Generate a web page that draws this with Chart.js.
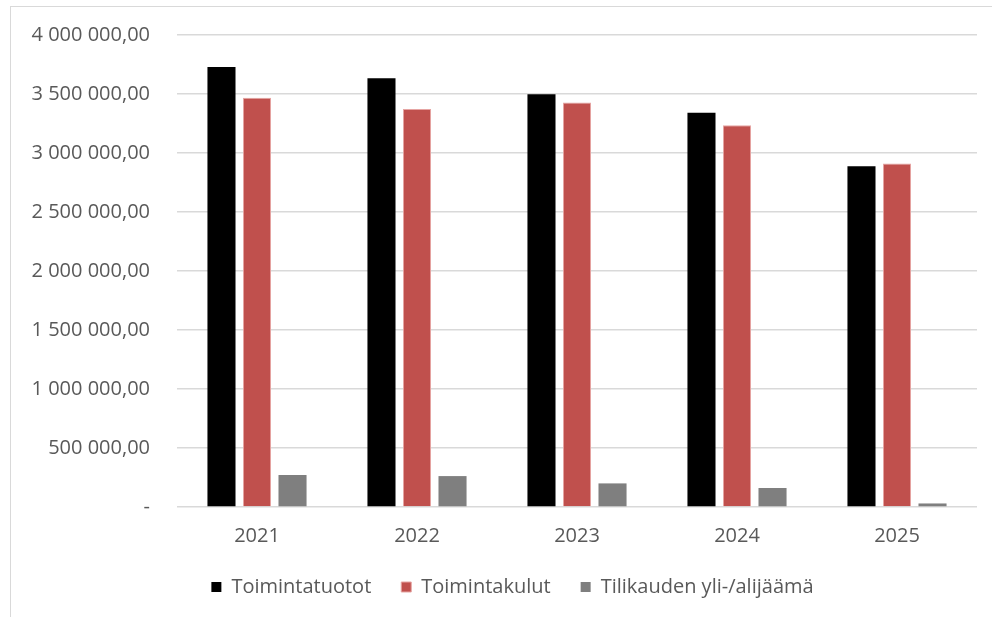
<!DOCTYPE html>
<html>
<head>
<meta charset="utf-8">
<script src="https://cdn.jsdelivr.net/npm/chart.js@4"></script>
<style>
  html, body { margin: 0; padding: 0; background: #fff; }
  #wrap { position: relative; width: 992px; height: 617px; overflow: hidden; }
  #frame {
    position: absolute; left: 10px; top: 6px; width: 1000px; height: 700px;
    border: 1.5px solid #d9d9d9; box-sizing: border-box; pointer-events: none;
  }
  canvas { position: absolute; left: 0; top: 0; }
</style>
</head>
<body>
<div id="wrap">
  <div id="frame"></div>
  <canvas id="chart" width="992" height="617"></canvas>
</div>
<script>
// values
const years = ["2021", "2022", "2023", "2024", "2025"];
const toimintatuotot = [3728000, 3633000, 3497000, 3342000, 2887000];
const toimintakulut = [3469000, 3373000, 3429000, 3235000, 2910000];
const ylijaama = [271000, 262000, 200000, 161000, 30000];

const textColor = "#595959";
const font = { family: "'Open Sans', 'Noto Sans', sans-serif", size: 20 };

// 3500000 -> "3 500 000,00", 0 -> "-"
function fiNumber(v) {
  if (v === 0) return "-";
  const s = Math.round(v).toString().replace(/\B(?=(\d{3})+(?!\d))/g, " ");
  return s + ",00";
}

// legend sits a bit right of centre in the original
const legendShift = {
  id: "legendShift",
  afterLayout(chart) {
    chart.legend.left += 19;
    chart.legend.right += 19;
  },
};

new Chart(document.getElementById("chart"), {
  type: "bar",
  data: {
    labels: years,
    datasets: [
      {
        label: "Toimintatuotot",
        data: toimintatuotot,
        backgroundColor: "#000000",
      },
      {
        label: "Toimintakulut",
        data: toimintakulut,
        backgroundColor: "#C0504D",
        borderColor: "#E6A5A3",
        borderWidth: 1,
      },
      {
        label: "Tilikauden yli-/alijäämä",
        data: ylijaama,
        backgroundColor: "#7F7F7F",
      },
    ],
  },
  plugins: [legendShift],
  options: {
    responsive: false,
    animation: false,
    categoryPercentage: 0.666,
    barPercentage: 0.79,
    layout: {
      padding: { left: 10, right: 15, top: 35, bottom: 10 },
    },
    plugins: {
      tooltip: { enabled: false },
      legend: {
        position: "bottom",
        labels: {
          color: textColor,
          font: font,
          boxWidth: 10,
          boxHeight: 10,
          padding: 30,
          useBorderRadius: false,
        },
      },
    },
    scales: {
      x: {
        grid: { display: false, drawTicks: false },
        border: { display: false },
        ticks: { color: textColor, font: font, padding: 17 },
        afterFit: (scale) => {
          scale.height = 40;
        },
      },
      y: {
        min: 0,
        max: 4000000,
        ticks: {
          stepSize: 500000,
          color: textColor,
          font: font,
          padding: 27,
          callback: (v) => fiNumber(v),
        },
        grid: { color: "#d9d9d9", lineWidth: 1.5, drawTicks: false },
        border: { display: false },
        afterFit: (scale) => {
          scale.width = 167;
          scale.paddingTop = 12;
          scale.paddingBottom = 12;
        },
      },
    },
  },
});
</script>
</body>
</html>
